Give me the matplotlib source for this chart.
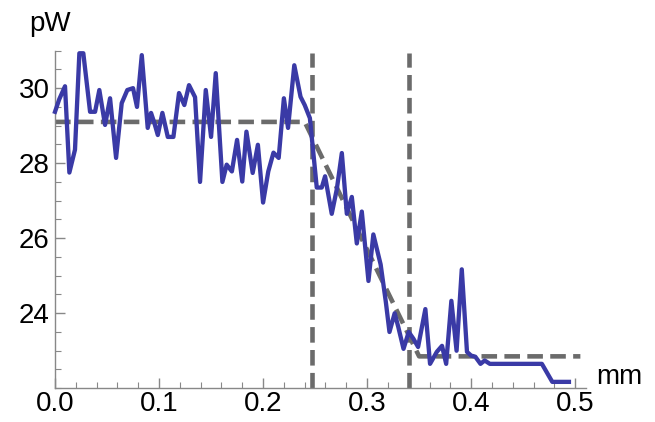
# Power vs position profile with piecewise fit and edge markers
import matplotlib.pyplot as plt
from matplotlib.ticker import MultipleLocator

# Measured signal (mm, pW)
pos_mm = [0.0, 0.004, 0.0096, 0.0138, 0.0192, 0.0234, 0.0272, 0.0337, 0.0385,
          0.0426, 0.0481, 0.0529, 0.0587, 0.0641, 0.0695, 0.075, 0.0788,
          0.0834, 0.0891, 0.0923, 0.0955, 0.0988, 0.1032, 0.1084, 0.1138,
          0.1192, 0.1243, 0.1288, 0.1346, 0.1394, 0.1449, 0.15, 0.1545,
          0.1609, 0.165, 0.17, 0.175, 0.18, 0.184, 0.19, 0.195, 0.2, 0.205,
          0.21, 0.215, 0.22, 0.224, 0.23, 0.236, 0.24, 0.245, 0.2516, 0.2564,
          0.2596, 0.266, 0.2709, 0.2757, 0.2805, 0.2853, 0.2901, 0.2949,
          0.3013, 0.306, 0.313, 0.318, 0.3215, 0.3265, 0.330, 0.335, 0.340,
          0.3445, 0.349, 0.356, 0.3605, 0.367, 0.372, 0.376, 0.381, 0.386,
          0.391, 0.396, 0.400, 0.404, 0.409, 0.413, 0.418, 0.468, 0.478, 0.494]
power_pw = [29.37, 29.7, 30.05, 27.75, 28.36, 30.93, 30.93, 29.37, 29.37,
            29.95, 29.02, 29.73, 28.14, 29.6, 29.95, 30.0, 29.5,
            30.88, 28.94, 29.34, 29.07, 28.75, 29.34, 28.7, 28.7,
            29.87, 29.55, 30.08, 29.76, 27.5, 29.95, 28.7, 30.4,
            27.5, 27.96, 27.78, 28.62, 27.51, 28.84, 27.74, 28.49, 26.95, 27.78,
            28.28, 28.14, 29.73, 28.94, 30.61, 29.77, 29.55, 29.2, 27.35, 27.35,
            27.65, 26.65, 27.31, 28.27, 26.65, 27.1, 25.86, 26.71,
            24.86, 26.1, 25.3, 24.3, 23.5, 24.0, 23.63, 23.05, 23.5,
            23.32, 23.1, 24.11, 22.65, 22.97, 23.13, 22.65, 24.33, 23.0,
            25.17, 22.97, 22.87, 22.84, 22.65, 22.74, 22.65, 22.65, 22.17, 22.17]

# Piecewise-linear fit
fit_x = [0.0, 0.240, 0.350, 0.505]
fit_y = [29.1, 29.1, 22.85, 22.85]

# Edge positions
edges_mm = [0.247, 0.340]

fig = plt.figure(figsize=(6.55, 4.22), dpi=100)
ax = fig.add_axes([0.084, 0.08, 0.81, 0.80])

ax.plot(pos_mm, power_pw, color='#3a3aa6', lw=3.1, clip_on=False, zorder=3)
ax.plot(fit_x, fit_y, color='#6b6b6b', lw=3.3, dashes=(3.4, 1.6), zorder=2)
for e in edges_mm:
    ax.plot([e, e], [22, 30.95], color='#6b6b6b', lw=3.3, dashes=(3.4, 1.6),
            clip_on=False, zorder=2)

ax.set_xlim(0, 0.51)
ax.set_ylim(22, 31.0)

for side in ['top', 'right']:
    ax.spines[side].set_visible(False)
for side in ['left', 'bottom']:
    ax.spines[side].set_color('#888888')
    ax.spines[side].set_linewidth(1.0)

ax.xaxis.set_major_locator(MultipleLocator(0.1))
ax.xaxis.set_minor_locator(MultipleLocator(0.02))
ax.yaxis.set_major_locator(MultipleLocator(2))
ax.yaxis.set_minor_locator(MultipleLocator(0.5))
ax.set_yticks([24, 26, 28, 30])
ax.xaxis.set_major_formatter(plt.FuncFormatter(lambda v, p: f"{v:.1f}"))

ax.tick_params(which='major', direction='in', length=7, width=1.0,
               color='#888888', labelsize=20, pad=4)
ax.tick_params(axis='x', which='major', pad=2)
ax.tick_params(which='minor', direction='in', length=4, width=0.8,
               color='#888888')
for lab in ax.get_xticklabels() + ax.get_yticklabels():
    lab.set_fontfamily('Liberation Sans')

ax.text(-0.01, 1.04, 'pW', transform=ax.transAxes, ha='center', va='bottom',
        fontsize=20, family='Liberation Sans')
ax.text(1.02, -0.005, 'mm', transform=ax.transAxes, ha='left', va='bottom',
        fontsize=20, family='Liberation Sans')

fig.savefig('out.png', dpi=100, facecolor='white')
